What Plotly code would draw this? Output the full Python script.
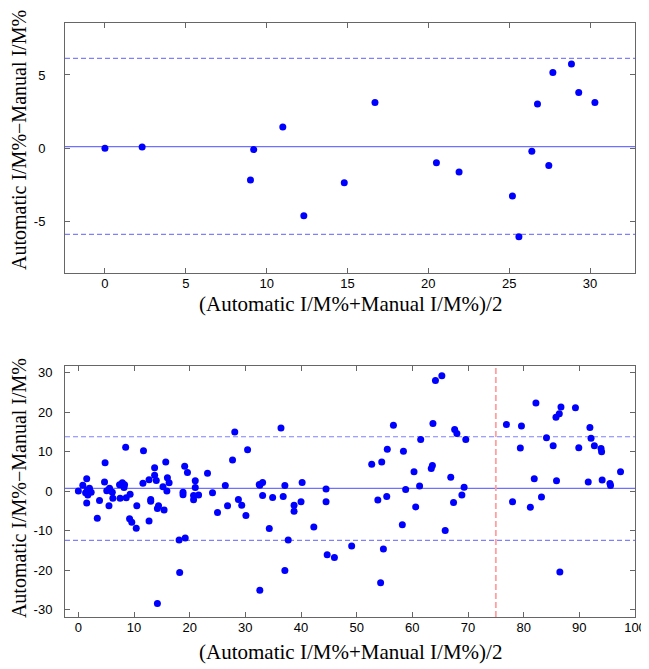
import plotly.graph_objects as go
from plotly.subplots import make_subplots

# ---- Top panel data ----
top_mean_x = [0.0, 2.3, 9.2, 9.0, 11.0, 12.3, 14.8, 16.7, 20.5, 21.9, 25.2, 25.6,
              26.4, 26.75, 27.45, 27.7, 28.85, 29.3, 30.3]
top_diff_y = [0.0, 0.09, -0.09, -2.16, 1.45, -4.6, -2.35, 3.13, -0.98, -1.62, -3.25, -6.03,
              -0.2, 3.02, -1.18, 5.16, 5.75, 3.8, 3.13]
top_bias = 0.11
top_upper = 6.13
top_lower = -5.86

# ---- Bottom panel data ----
bot_mean_x = [0.0, 0.8, 1.5, 1.3, 1.7, 2.0, 2.3, 1.6, 1.5, 3.4, 3.8, 4.8, 4.7, 5.1, 5.6, 5.5,
              6.1, 6.2, 7.4, 7.5, 7.9, 8.3, 8.2, 8.6, 8.5, 9.3, 9.2, 9.6, 10.4, 10.5, 11.7,
              11.6, 12.7, 12.7, 13.0, 13.0, 13.7, 13.7, 14.0, 14.2, 14.4, 14.2, 15.2, 15.4,
              15.7, 16.0, 16.3, 15.9,
              18.1, 18.2, 18.8, 18.8, 19.1, 19.2, 19.6, 20.7, 21.0, 21.0, 20.7, 21.6, 23.2,
              24.1, 25.0, 26.4, 26.8, 27.7, 28.1, 28.75, 29.35, 30.1, 30.4, 32.5, 32.6,
              32.6, 33.1, 33.1, 34.9, 34.3, 36.4, 37.1, 36.8, 37.7, 37.1, 38.75, 38.75, 40.0,
              40.2, 42.3, 44.5, 44.5, 44.7, 46.0, 49.1, 52.7, 53.8, 54.5, 54.3, 54.8, 55.5,
              55.4, 56.6, 58.2, 58.4, 58.8, 60.3, 60.6, 61.3, 61.5, 63.4, 63.6, 63.7, 64.15,
              65.3, 65.9, 66.9, 67.6, 68.0, 69.6, 69.3, 68.9, 67.4,
              76.9, 79.6, 82.2, 79.4, 81.9, 78.0, 81.2, 83.2, 84.1, 85.3, 85.8, 86.4, 86.7,
              89.3, 89.9, 91.9, 92.1, 92.7, 93.9, 94.0, 85.9, 91.6, 94.1, 95.5, 95.6, 97.4,
              86.5]
bot_diff_y = [0.0, 1.5, 3.1, -0.4, -1.0, 0.7, -0.3, 0.3, -3.0, -6.9, -2.4, 7.2, 2.3, 0.1, 0.7,
              -3.7, -0.3, -1.8, 1.6, -1.8, 2.1, 1.6, 0.9, -1.7, 11.1, -0.8, -7.0, -7.9, -9.4,
              -3.7, 10.2, 2.0, 2.9, -7.6, -2.1, -2.6, 5.9, 4.0, 2.7, -4.4, -3.7, -28.5, 1.1,
              -4.8, 7.4, 3.4, 2.1, 0.0,
              -12.4, -20.6, -0.3, -0.9, 6.3, -11.9, 4.7, -2.2, 2.6, 0.9, -1.1, -1.0, 4.5,
              -0.4, -5.4, 1.4, -3.7, 7.9, 15.0, -2.1, -3.6, -6.2, 10.5, 1.7, -25.1,
              1.5, 2.2, -1.1, -1.6, -9.5, 16.0, 1.4, -1.35, -12.4, -20.1, -3.6, -5.1, -2.7,
              2.2, -9.1, 0.5, -2.7, -16.1, -16.8, -13.9, 6.8, -2.25, 7.4, -23.2, -14.7, 10.6,
              -1.4, 16.7, -8.5, 10.1, 0.4, 4.9, -4.0, 1.3, 13.1, 5.7, 6.5, 17.1, 28.0,
              29.2, -10.0, 3.5, 15.6, 14.6, 13.1, 1.0, -1.0, -2.9,
              16.9, 16.5, 22.3, 10.9, 3.1, -2.7, -4.1, -1.5, 13.5, 11.5, 18.7, 19.6, 21.3,
              21.1, 11.0, 16.1, 13.4, 11.5, 10.8, 10.0, 2.6, 2.3, 2.8, 1.9, 1.4, 4.9,
              -20.5]
bot_bias = 0.68
bot_upper = 13.77
bot_lower = -12.5
split_x = 75.0

top_xticks = [0, 5, 10, 15, 20, 25, 30]
top_yticks = [-5, 0, 5]
bot_xticks = [0, 10, 20, 30, 40, 50, 60, 70, 80, 90, 100]
bot_yticks = [-30, -20, -10, 0, 10, 20, 30]

x_title = "(Automatic I/M%+Manual I/M%)/2"
y_title = "Automatic I/M%\u2212Manual I/M%"

def lab(v):
    return str(v) if v >= 0 else "-" + str(-v)

fig = make_subplots(rows=2, cols=1, vertical_spacing=0.1)

marker = dict(color="#0000ff", size=7, line=dict(width=0))
fig.add_trace(go.Scatter(x=top_mean_x, y=top_diff_y, mode="markers", marker=marker,
                         showlegend=False), row=1, col=1)
fig.add_trace(go.Scatter(x=bot_mean_x, y=bot_diff_y, mode="markers", marker=marker,
                         showlegend=False), row=2, col=1)

line_solid = dict(color="#7070ff", width=1.2)
line_dash = dict(color="#8080ff", width=1.2, dash="5px,3px")

for (xr, yr, b, u, l) in [("x", "y", top_bias, top_upper, top_lower),
                          ("x2", "y2", bot_bias, bot_upper, bot_lower)]:
    fig.add_shape(type="line", xref=xr + " domain", yref=yr, x0=0, x1=1, y0=b, y1=b,
                  line=line_solid, layer="below")
    for v in (u, l):
        fig.add_shape(type="line", xref=xr + " domain", yref=yr, x0=0, x1=1, y0=v, y1=v,
                      line=line_dash, layer="below")

fig.add_shape(type="line", xref="x2", yref="y2 domain", x0=split_x, x1=split_x, y0=0, y1=1,
              line=dict(color="#ffa0a0", width=1.8, dash="6px,3px"), layer="below")

axis_common = dict(showgrid=False, zeroline=False, showline=True, mirror="ticks",
                   linecolor="#666666", linewidth=1, ticks="inside", ticklen=5,
                   tickcolor="#666666", automargin=False,
                   tickfont=dict(family="Liberation Sans, Arial", size=13, color="black"))

fig.update_xaxes(axis_common)
fig.update_yaxes(axis_common)

fig.update_xaxes(range=[-2.47, 32.78], tickvals=top_xticks, ticklabelstandoff=-2,
                 ticktext=[lab(v) for v in top_xticks], row=1, col=1)
fig.update_yaxes(range=[-8.5, 8.54], tickvals=top_yticks,
                 ticktext=[lab(v) for v in top_yticks], ticklabelstandoff=16, row=1, col=1)
fig.update_xaxes(range=[-2.4, 100], tickvals=bot_xticks, ticklabelstandoff=-2,
                 ticktext=[lab(v) for v in bot_xticks], row=2, col=1)
fig.update_yaxes(range=[-31.9, 31.7], tickvals=bot_yticks,
                 ticktext=[lab(v) for v in bot_yticks], ticklabelstandoff=9, row=2, col=1)

x_title_font = dict(family="Liberation Serif, Times New Roman", size=21, color="black")
y_title_font = dict(family="Liberation Serif, Times New Roman", size=20, color="black")
for (ty, yty) in [(0.5269, 0.803), (-0.0589, 0.217)]:
    fig.add_annotation(text=x_title, xref="paper", yref="paper", x=0.5, y=ty,
                       showarrow=False, font=x_title_font, xanchor="center", yanchor="middle")
    fig.add_annotation(text=y_title, xref="paper", yref="paper", x=-0.0807, y=yty,
                       showarrow=False, font=y_title_font, textangle=-90,
                       xanchor="center", yanchor="middle")

# the page body adds an 8px offset; the figure is sized to compensate
fig.update_layout(
    width=641, height=661,
    margin=dict(l=57, r=14, t=15, b=52, autoexpand=False),
    paper_bgcolor="white", plot_bgcolor="white",
)
fig.layout.yaxis.domain = [0.5791, 1.0]
fig.layout.yaxis2.domain = [0.0, 0.4226]

fig.write_html("out.html")
